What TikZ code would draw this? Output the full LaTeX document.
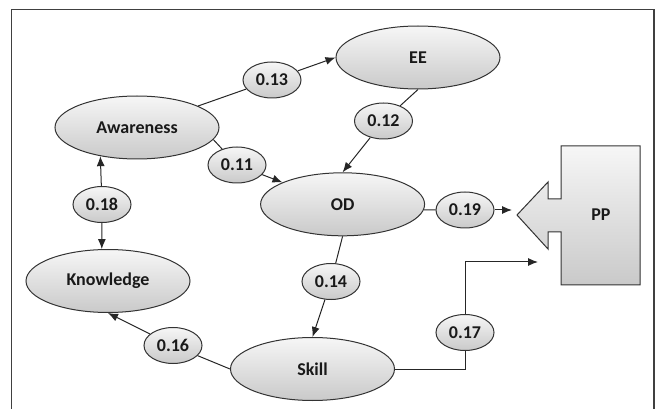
\documentclass[tikz,border=0pt]{standalone}
\usepackage{fontspec}
\setmainfont{Carlito}
\usetikzlibrary{positioning, arrows.meta, shapes.geometric}

\begin{document}
\begin{tikzpicture}[x=1pt, y=-1pt,
    big node/.style={ellipse, draw=black!80, line width=1pt, top color=gray!7, bottom color=gray!42, minimum width=164pt, minimum height=63pt, inner sep=0pt, font=\fontsize{18}{20}\selectfont\bfseries, text=black!90},
    path node/.style={ellipse, draw=black!80, line width=1pt, top color=gray!7, bottom color=gray!42, minimum width=58pt, minimum height=36pt, inner sep=0pt, font=\fontsize{18}{20}\selectfont\bfseries, text=black!90},
    link/.style={line width=1pt, draw=black!85},
    arrow/.style={link, -{Latex[length=10pt, width=8pt]}}
]
\useasboundingbox (0,0) rectangle (657,409);

\draw[line width=1.5pt, black!75] (11.5,409) -- (11.5,9.5) -- (654,9.5) -- (654,409);

\node[big node] (ee) at (418,57.5) {EE};
\node[big node] (aw) at (137,127.5) {Awareness};
\node[big node] (od) at (342.6,204.3) {OD};
\node[big node] (kn) at (108,281) {Knowledge};
\node[big node] (sk) at (312.5,369) {Skill};

\draw[line width=1pt, draw=black!80, top color=gray!7, bottom color=gray!42]
    (561,146) -- (640,146) -- (640,285) -- (561,285) -- (561,232) -- (548,232)
    -- (548,249) -- (517,215) -- (548,182) -- (548,199) -- (561,199) -- cycle;
\node[font=\fontsize{18}{20}\selectfont\bfseries, text=black!90] (pp) at (601,215) {PP};

\node[path node] (l13) at (272,80) {0.13};
\node[path node] (l12) at (383.5,121) {0.12};
\node[path node] (l11) at (237,165) {0.11};
\node[path node] (l18) at (102,204.5) {0.18};
\node[path node] (l19) at (465,210) {0.19};
\node[path node] (l14) at (331,281.5) {0.14};
\node[path node] (l16) at (173,345.5) {0.16};
\node[path node] (l17) at (465,332.5) {0.17};

\coordinate (pp19) at (512,210);
\coordinate (pp17) at (538,262);

\draw[link] (aw) -- (l13);
\draw[arrow] (l13) -- (ee.west);
\draw[link] (ee.south) -- (l12);
\draw[arrow] (l12) -- (od.north);
\draw[link] (aw.-9) -- (l11);
\draw[arrow] (l11) -- (od.160);
\draw[arrow] (l18) -- (aw.-142);
\draw[arrow] (l18) -- (kn.101);
\draw[link] (od.-4) -- (l19);
\draw[arrow] (l19) -- (pp19);
\draw[link] (od.south) -- (l14);
\draw[arrow] (l14) -- (sk.north);
\draw[link] (sk.west) -- (l16);
\draw[arrow] (l16) -- (kn.south);
\draw[link] (sk.east) -| (l17.south);
\draw[arrow] (l17.north) |- (pp17);

\end{tikzpicture}
\end{document}
